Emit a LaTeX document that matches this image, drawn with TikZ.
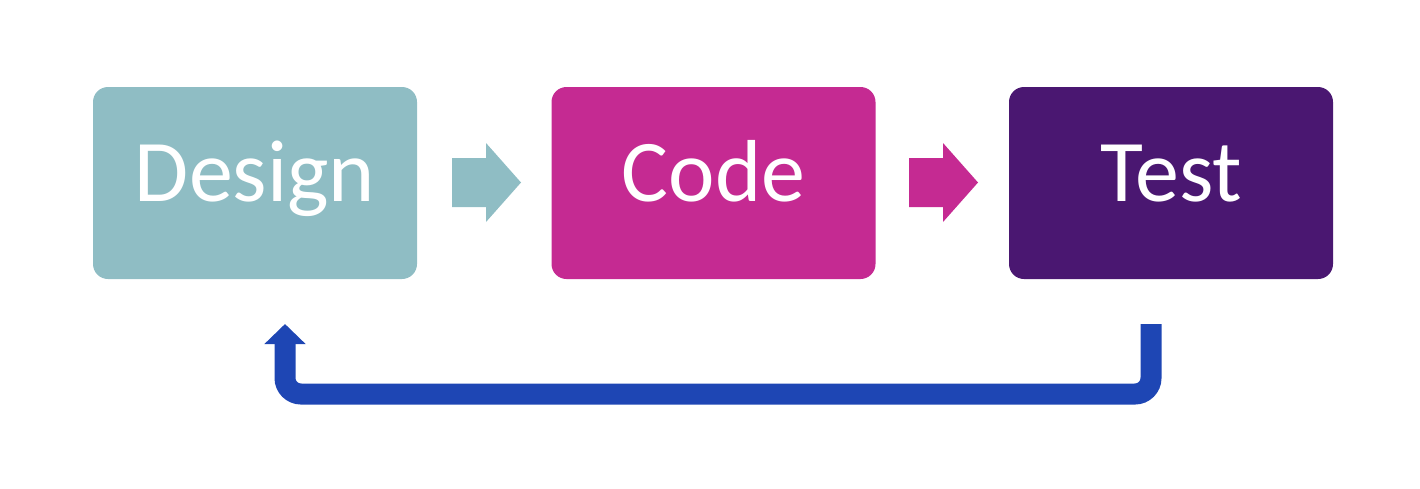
\documentclass[tikz,border=0pt]{standalone}
\usepackage{fontspec}
\setmainfont{Carlito}
\usetikzlibrary{arrows.meta}

\definecolor{designcol}{RGB}{143,189,196}
\definecolor{codecol}{RGB}{197,42,146}
\definecolor{testcol}{RGB}{74,23,113}
\definecolor{loopcol}{RGB}{30,70,180}

\begin{document}
\begin{tikzpicture}[x=1pt,y=-1pt]
      \tikzstyle{stage}=[rounded corners=15pt, minimum width=324pt, minimum height=192pt,
        inner sep=0pt, text=white, font=\fontsize{88}{88}\selectfont, text height=56pt, text depth=20pt]
      \useasboundingbox (0,0) rectangle (1420,488);
      \node [stage, fill=designcol] (design) at (255,183) {Design};
      \node [stage, fill=codecol] (code) at (713.5,183) {Code};
      \node [stage, fill=testcol] (test) at (1171,183) {Test};
      % block arrows between the stages
      \fill [designcol] (452,158) -- (486,158) -- (486,143) -- (521,182.5) -- (486,222) -- (486,207) -- (452,207) -- cycle;
      \fill [codecol] (909,158) -- (943,158) -- (943,143) -- (978,182.5) -- (943,222) -- (943,207) -- (909,207) -- cycle;
      % feedback loop from test back to design
      \coordinate (loopstart) at (1151,324);
      \coordinate (loopend) at (285,324);
      \draw [loopcol, line width=21pt, rounded corners=16pt, -{Triangle[length=20pt,width=40pt]}]
        (loopstart) -- (1151,394) -- (285,394) -- (loopend);
\end{tikzpicture}
\end{document}
